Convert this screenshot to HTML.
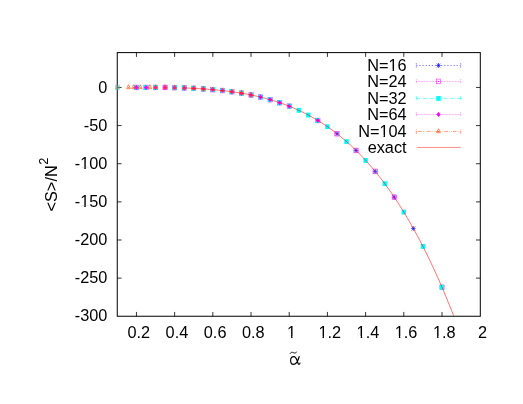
<!DOCTYPE html>
<html><head><meta charset="utf-8"><title>plot</title>
<style>html,body{margin:0;padding:0;background:#fff;}svg{display:block;will-change:transform}text{font-family:"Liberation Sans",sans-serif;font-size:16.3px;fill:#000}</style>
</head><body>
<svg width="523" height="404" viewBox="0 0 523 404">
<rect width="523" height="404" fill="#fff"/>
<g id="axes" stroke="#000" stroke-width="1" fill="none">
<rect x="117.25" y="52.6" width="363.05" height="263.65"/>
<path stroke-width="0.8" d="M136.45 316.25V311.95M136.45 52.6V56.9"/>
<path stroke-width="0.8" d="M174.64 316.25V311.95M174.64 52.6V56.9"/>
<path stroke-width="0.8" d="M212.84 316.25V311.95M212.84 52.6V56.9"/>
<path stroke-width="0.8" d="M251.03 316.25V311.95M251.03 52.6V56.9"/>
<path stroke-width="0.8" d="M289.22 316.25V311.95M289.22 52.6V56.9"/>
<path stroke-width="0.8" d="M327.42 316.25V311.95M327.42 52.6V56.9"/>
<path stroke-width="0.8" d="M365.61 316.25V311.95M365.61 52.6V56.9"/>
<path stroke-width="0.8" d="M403.80 316.25V311.95M403.80 52.6V56.9"/>
<path stroke-width="0.8" d="M442.00 316.25V311.95M442.00 52.6V56.9"/>
<path stroke-width="0.8" d="M117.25 87.45H121.55M480.3 87.45H476.0"/>
<path stroke-width="0.8" d="M117.25 125.59H121.55M480.3 125.59H476.0"/>
<path stroke-width="0.8" d="M117.25 163.72H121.55M480.3 163.72H476.0"/>
<path stroke-width="0.8" d="M117.25 201.86H121.55M480.3 201.86H476.0"/>
<path stroke-width="0.8" d="M117.25 239.99H121.55M480.3 239.99H476.0"/>
<path stroke-width="0.8" d="M117.25 278.12H121.55M480.3 278.12H476.0"/>
</g>
<g id="data">
<g opacity="0.6">
<rect x="115.25" y="85.10" width="4.20" height="4.70" stroke="#ff00ff" stroke-width="0.5" fill="none"/><circle cx="117.35" cy="87.45" r="0.5" fill="#ff00ff"/>
<rect x="115.15" y="85.00" width="4.40" height="4.90" fill="#00ffff"/>
<path d="M117.35 84.71L115.50 88.67L119.20 88.67Z" stroke="#ff4d00" stroke-width="0.65" fill="none"/><circle cx="117.35" cy="87.45" r="0.5" fill="#ff4d00"/>
</g>
<path d="M134.25 87.45H138.65M136.45 85.00V89.90M134.73 85.54L138.16 89.36M134.73 89.36L138.16 85.54" stroke="#0000ff" stroke-width="0.65" fill="none"/>
<path d="M143.80 87.45H148.20M146.00 85.00V89.90M144.28 85.54L147.71 89.36M144.28 89.36L147.71 85.54" stroke="#0000ff" stroke-width="0.65" fill="none"/>
<path d="M153.34 87.45H157.74M155.54 85.00V89.90M153.83 85.54L157.26 89.36M153.83 89.36L157.26 85.54" stroke="#0000ff" stroke-width="0.65" fill="none"/>
<path d="M162.89 87.45H167.29M165.09 85.00V89.90M163.38 85.54L166.81 89.36M163.38 89.36L166.81 85.54" stroke="#0000ff" stroke-width="0.65" fill="none"/>
<path d="M172.44 87.63H176.84M174.64 85.18V90.08M172.93 85.72L176.36 89.54M172.93 89.54L176.36 85.72" stroke="#0000ff" stroke-width="0.65" fill="none"/>
<path d="M181.99 87.93H186.39M184.19 85.48V90.38M182.47 86.02L185.91 89.84M182.47 89.84L185.91 86.02" stroke="#0000ff" stroke-width="0.65" fill="none"/>
<path d="M191.54 88.34H195.94M193.74 85.89V90.79M192.02 86.43L195.45 90.25M192.02 90.25L195.45 86.43" stroke="#0000ff" stroke-width="0.65" fill="none"/>
<path d="M201.09 88.89H205.49M203.29 86.44V91.34M201.57 86.98L205.00 90.80M201.57 90.80L205.00 86.98" stroke="#0000ff" stroke-width="0.65" fill="none"/>
<path d="M210.63 89.62H215.03M212.83 87.17V92.07M211.12 87.71L214.55 91.53M211.12 91.53L214.55 87.71" stroke="#0000ff" stroke-width="0.65" fill="none"/>
<path d="M220.18 90.55H224.58M222.38 88.10V93.00M220.67 88.64L224.10 92.46M220.67 92.46L224.10 88.64" stroke="#0000ff" stroke-width="0.65" fill="none"/>
<path d="M229.73 91.72H234.13M231.93 89.27V94.17M230.22 89.81L233.65 93.63M230.22 93.63L233.65 89.81" stroke="#0000ff" stroke-width="0.65" fill="none"/>
<path d="M239.28 93.18H243.68M241.48 90.73V95.63M239.76 91.27L243.20 95.09M239.76 95.09L243.20 91.27" stroke="#0000ff" stroke-width="0.65" fill="none"/>
<path d="M248.83 94.95H253.23M251.03 92.50V97.40M249.31 93.04L252.75 96.87M249.31 96.87L252.75 93.04" stroke="#0000ff" stroke-width="0.65" fill="none"/>
<path d="M258.38 97.10H262.78M260.58 94.65V99.55M258.86 95.19L262.29 99.01M258.86 99.01L262.29 95.19" stroke="#0000ff" stroke-width="0.65" fill="none"/>
<path d="M267.93 99.66H272.33M270.13 97.21V102.11M268.41 97.74L271.84 101.57M268.41 101.57L271.84 97.74" stroke="#0000ff" stroke-width="0.65" fill="none"/>
<path d="M277.47 102.68H281.87M279.67 100.23V105.13M277.96 100.76L281.39 104.59M277.96 104.59L281.39 100.76" stroke="#0000ff" stroke-width="0.65" fill="none"/>
<path d="M334.77 133.70H339.17M336.97 131.25V136.15M335.25 131.79L338.68 135.61M335.25 135.61L338.68 131.79" stroke="#0000ff" stroke-width="0.65" fill="none"/>
<path d="M353.86 150.48H358.26M356.06 148.03V152.93M354.35 148.57L357.78 152.39M354.35 152.39L357.78 148.57" stroke="#0000ff" stroke-width="0.65" fill="none"/>
<path d="M372.96 171.43H377.36M375.16 168.98V173.88M373.44 169.52L376.88 173.34M373.44 173.34L376.88 169.52" stroke="#0000ff" stroke-width="0.65" fill="none"/>
<path d="M392.06 197.20H396.46M394.26 194.75V199.65M392.54 195.29L395.97 199.11M392.54 199.11L395.97 195.29" stroke="#0000ff" stroke-width="0.65" fill="none"/>
<path d="M411.15 228.47H415.55M413.35 226.02V230.92M411.64 226.56L415.07 230.38M411.64 230.38L415.07 226.56" stroke="#0000ff" stroke-width="0.65" fill="none"/>
<rect x="134.35" y="85.10" width="4.20" height="4.70" stroke="#ff00ff" stroke-width="0.5" fill="none"/><circle cx="136.45" cy="87.45" r="0.5" fill="#ff00ff"/>
<rect x="143.90" y="85.10" width="4.20" height="4.70" stroke="#ff00ff" stroke-width="0.5" fill="none"/><circle cx="146.00" cy="87.45" r="0.5" fill="#ff00ff"/>
<rect x="153.44" y="85.10" width="4.20" height="4.70" stroke="#ff00ff" stroke-width="0.5" fill="none"/><circle cx="155.54" cy="87.45" r="0.5" fill="#ff00ff"/>
<rect x="162.99" y="85.10" width="4.20" height="4.70" stroke="#ff00ff" stroke-width="0.5" fill="none"/><circle cx="165.09" cy="87.45" r="0.5" fill="#ff00ff"/>
<rect x="172.54" y="85.28" width="4.20" height="4.70" stroke="#ff00ff" stroke-width="0.5" fill="none"/><circle cx="174.64" cy="87.63" r="0.5" fill="#ff00ff"/>
<rect x="182.09" y="85.58" width="4.20" height="4.70" stroke="#ff00ff" stroke-width="0.5" fill="none"/><circle cx="184.19" cy="87.93" r="0.5" fill="#ff00ff"/>
<rect x="191.64" y="85.99" width="4.20" height="4.70" stroke="#ff00ff" stroke-width="0.5" fill="none"/><circle cx="193.74" cy="88.34" r="0.5" fill="#ff00ff"/>
<rect x="201.19" y="86.54" width="4.20" height="4.70" stroke="#ff00ff" stroke-width="0.5" fill="none"/><circle cx="203.29" cy="88.89" r="0.5" fill="#ff00ff"/>
<rect x="210.73" y="87.27" width="4.20" height="4.70" stroke="#ff00ff" stroke-width="0.5" fill="none"/><circle cx="212.83" cy="89.62" r="0.5" fill="#ff00ff"/>
<rect x="220.28" y="88.20" width="4.20" height="4.70" stroke="#ff00ff" stroke-width="0.5" fill="none"/><circle cx="222.38" cy="90.55" r="0.5" fill="#ff00ff"/>
<rect x="229.83" y="89.37" width="4.20" height="4.70" stroke="#ff00ff" stroke-width="0.5" fill="none"/><circle cx="231.93" cy="91.72" r="0.5" fill="#ff00ff"/>
<rect x="239.38" y="90.83" width="4.20" height="4.70" stroke="#ff00ff" stroke-width="0.5" fill="none"/><circle cx="241.48" cy="93.18" r="0.5" fill="#ff00ff"/>
<rect x="248.93" y="92.60" width="4.20" height="4.70" stroke="#ff00ff" stroke-width="0.5" fill="none"/><circle cx="251.03" cy="94.95" r="0.5" fill="#ff00ff"/>
<rect x="258.48" y="94.75" width="4.20" height="4.70" stroke="#ff00ff" stroke-width="0.5" fill="none"/><circle cx="260.58" cy="97.10" r="0.5" fill="#ff00ff"/>
<rect x="268.03" y="97.31" width="4.20" height="4.70" stroke="#ff00ff" stroke-width="0.5" fill="none"/><circle cx="270.13" cy="99.66" r="0.5" fill="#ff00ff"/>
<rect x="277.57" y="100.33" width="4.20" height="4.70" stroke="#ff00ff" stroke-width="0.5" fill="none"/><circle cx="279.67" cy="102.68" r="0.5" fill="#ff00ff"/>
<rect x="287.12" y="103.86" width="4.20" height="4.70" stroke="#ff00ff" stroke-width="0.5" fill="none"/><circle cx="289.22" cy="106.21" r="0.5" fill="#ff00ff"/>
<rect x="315.77" y="118.14" width="4.20" height="4.70" stroke="#ff00ff" stroke-width="0.5" fill="none"/><circle cx="317.87" cy="120.49" r="0.5" fill="#ff00ff"/>
<rect x="334.87" y="131.35" width="4.20" height="4.70" stroke="#ff00ff" stroke-width="0.5" fill="none"/><circle cx="336.97" cy="133.70" r="0.5" fill="#ff00ff"/>
<rect x="353.96" y="148.13" width="4.20" height="4.70" stroke="#ff00ff" stroke-width="0.5" fill="none"/><circle cx="356.06" cy="150.48" r="0.5" fill="#ff00ff"/>
<rect x="373.06" y="169.08" width="4.20" height="4.70" stroke="#ff00ff" stroke-width="0.5" fill="none"/><circle cx="375.16" cy="171.43" r="0.5" fill="#ff00ff"/>
<rect x="392.16" y="194.85" width="4.20" height="4.70" stroke="#ff00ff" stroke-width="0.5" fill="none"/><circle cx="394.26" cy="197.20" r="0.5" fill="#ff00ff"/>
<rect x="439.90" y="284.96" width="4.20" height="4.70" stroke="#ff00ff" stroke-width="0.5" fill="none"/><circle cx="442.00" cy="287.31" r="0.5" fill="#ff00ff"/>
<rect x="134.25" y="85.00" width="4.40" height="4.90" fill="#00ffff"/>
<rect x="143.80" y="85.00" width="4.40" height="4.90" fill="#00ffff"/>
<rect x="153.34" y="85.00" width="4.40" height="4.90" fill="#00ffff"/>
<rect x="172.44" y="85.18" width="4.40" height="4.90" fill="#00ffff"/>
<rect x="181.99" y="85.48" width="4.40" height="4.90" fill="#00ffff"/>
<rect x="191.54" y="85.89" width="4.40" height="4.90" fill="#00ffff"/>
<rect x="201.09" y="86.44" width="4.40" height="4.90" fill="#00ffff"/>
<rect x="210.63" y="87.17" width="4.40" height="4.90" fill="#00ffff"/>
<rect x="220.18" y="88.10" width="4.40" height="4.90" fill="#00ffff"/>
<rect x="229.73" y="89.27" width="4.40" height="4.90" fill="#00ffff"/>
<rect x="239.28" y="90.73" width="4.40" height="4.90" fill="#00ffff"/>
<rect x="248.83" y="92.50" width="4.40" height="4.90" fill="#00ffff"/>
<rect x="258.38" y="94.65" width="4.40" height="4.90" fill="#00ffff"/>
<rect x="267.93" y="97.21" width="4.40" height="4.90" fill="#00ffff"/>
<rect x="277.47" y="100.23" width="4.40" height="4.90" fill="#00ffff"/>
<rect x="287.02" y="103.76" width="4.40" height="4.90" fill="#00ffff"/>
<rect x="296.57" y="107.87" width="4.40" height="4.90" fill="#00ffff"/>
<rect x="306.12" y="112.61" width="4.40" height="4.90" fill="#00ffff"/>
<rect x="315.67" y="118.04" width="4.40" height="4.90" fill="#00ffff"/>
<rect x="325.22" y="124.23" width="4.40" height="4.90" fill="#00ffff"/>
<rect x="344.31" y="139.15" width="4.40" height="4.90" fill="#00ffff"/>
<rect x="363.41" y="157.94" width="4.40" height="4.90" fill="#00ffff"/>
<rect x="382.51" y="181.22" width="4.40" height="4.90" fill="#00ffff"/>
<rect x="401.60" y="209.66" width="4.40" height="4.90" fill="#00ffff"/>
<rect x="420.70" y="243.95" width="4.40" height="4.90" fill="#00ffff"/>
<rect x="439.80" y="284.86" width="4.40" height="4.90" fill="#00ffff"/>
<path d="M136.45 85.00L138.65 87.45L136.45 89.90L134.25 87.45Z" fill="#ff00ff"/>
<path d="M146.00 85.00L148.20 87.45L146.00 89.90L143.80 87.45Z" fill="#ff00ff"/>
<path d="M155.54 85.00L157.74 87.45L155.54 89.90L153.34 87.45Z" fill="#ff00ff"/>
<path d="M165.09 85.00L167.29 87.45L165.09 89.90L162.89 87.45Z" fill="#ff00ff"/>
<path d="M174.64 85.18L176.84 87.63L174.64 90.08L172.44 87.63Z" fill="#ff00ff"/>
<path d="M184.19 85.48L186.39 87.93L184.19 90.38L181.99 87.93Z" fill="#ff00ff"/>
<path d="M193.74 85.89L195.94 88.34L193.74 90.79L191.54 88.34Z" fill="#ff00ff"/>
<path d="M203.29 86.44L205.49 88.89L203.29 91.34L201.09 88.89Z" fill="#ff00ff"/>
<path d="M212.83 87.17L215.03 89.62L212.83 92.07L210.63 89.62Z" fill="#ff00ff"/>
<path d="M222.38 88.10L224.58 90.55L222.38 93.00L220.18 90.55Z" fill="#ff00ff"/>
<path d="M231.93 89.27L234.13 91.72L231.93 94.17L229.73 91.72Z" fill="#ff00ff"/>
<path d="M241.48 90.73L243.68 93.18L241.48 95.63L239.28 93.18Z" fill="#ff00ff"/>
<path d="M251.03 92.50L253.23 94.95L251.03 97.40L248.83 94.95Z" fill="#ff00ff"/>
<path d="M260.58 94.65L262.78 97.10L260.58 99.55L258.38 97.10Z" fill="#ff00ff"/>
<path d="M270.13 97.21L272.33 99.66L270.13 102.11L267.93 99.66Z" fill="#ff00ff"/>
<path d="M279.67 100.23L281.87 102.68L279.67 105.13L277.47 102.68Z" fill="#ff00ff"/>
<path d="M289.22 103.76L291.42 106.21L289.22 108.66L287.02 106.21Z" fill="#ff00ff"/>
<path d="M317.87 118.04L320.07 120.49L317.87 122.94L315.67 120.49Z" fill="#ff00ff"/>
<path d="M128.43 84.71L126.58 88.67L130.28 88.67Z" stroke="#ff4d00" stroke-width="0.65" fill="none"/><circle cx="128.43" cy="87.45" r="0.5" fill="#ff4d00"/>
<path d="M133.58 84.71L131.73 88.67L135.43 88.67Z" stroke="#ff4d00" stroke-width="0.65" fill="none"/><circle cx="133.58" cy="87.45" r="0.5" fill="#ff4d00"/>
<path d="M140.27 84.71L138.42 88.67L142.12 88.67Z" stroke="#ff4d00" stroke-width="0.65" fill="none"/><circle cx="140.27" cy="87.45" r="0.5" fill="#ff4d00"/>
<path d="M149.81 84.71L147.96 88.67L151.66 88.67Z" stroke="#ff4d00" stroke-width="0.65" fill="none"/><circle cx="149.81" cy="87.45" r="0.5" fill="#ff4d00"/>
<path d="M155.54 84.71L153.69 88.67L157.39 88.67Z" stroke="#ff4d00" stroke-width="0.65" fill="none"/><circle cx="155.54" cy="87.45" r="0.5" fill="#ff4d00"/>
<path d="M165.09 84.71L163.24 88.67L166.94 88.67Z" stroke="#ff4d00" stroke-width="0.65" fill="none"/><circle cx="165.09" cy="87.45" r="0.5" fill="#ff4d00"/>
<path d="M174.64 84.89L172.79 88.86L176.49 88.86Z" stroke="#ff4d00" stroke-width="0.65" fill="none"/><circle cx="174.64" cy="87.63" r="0.5" fill="#ff4d00"/>
<path d="M184.19 85.18L182.34 89.15L186.04 89.15Z" stroke="#ff4d00" stroke-width="0.65" fill="none"/><circle cx="184.19" cy="87.93" r="0.5" fill="#ff4d00"/>
<path d="M193.74 85.59L191.89 89.56L195.59 89.56Z" stroke="#ff4d00" stroke-width="0.65" fill="none"/><circle cx="193.74" cy="88.34" r="0.5" fill="#ff4d00"/>
<path d="M203.29 86.15L201.44 90.11L205.14 90.11Z" stroke="#ff4d00" stroke-width="0.65" fill="none"/><circle cx="203.29" cy="88.89" r="0.5" fill="#ff4d00"/>
<path d="M212.83 86.87L210.98 90.84L214.68 90.84Z" stroke="#ff4d00" stroke-width="0.65" fill="none"/><circle cx="212.83" cy="89.62" r="0.5" fill="#ff4d00"/>
<path d="M222.38 87.80L220.53 91.77L224.23 91.77Z" stroke="#ff4d00" stroke-width="0.65" fill="none"/><circle cx="222.38" cy="90.55" r="0.5" fill="#ff4d00"/>
<path d="M231.93 88.98L230.08 92.95L233.78 92.95Z" stroke="#ff4d00" stroke-width="0.65" fill="none"/><circle cx="231.93" cy="91.72" r="0.5" fill="#ff4d00"/>
<path d="M241.48 90.43L239.63 94.40L243.33 94.40Z" stroke="#ff4d00" stroke-width="0.65" fill="none"/><circle cx="241.48" cy="93.18" r="0.5" fill="#ff4d00"/>
<path d="M251.03 92.21L249.18 96.18L252.88 96.18Z" stroke="#ff4d00" stroke-width="0.65" fill="none"/><circle cx="251.03" cy="94.95" r="0.5" fill="#ff4d00"/>
<polyline fill="none" stroke="#ff0000" stroke-width="0.55" points="184.19,87.93 186.10,88.00 188.01,88.08 189.92,88.16 191.83,88.24 193.74,88.34 195.65,88.43 197.56,88.54 199.47,88.65 201.38,88.77 203.29,88.89 205.20,89.02 207.11,89.16 209.02,89.30 210.93,89.46 212.84,89.62 214.74,89.78 216.65,89.96 218.56,90.15 220.47,90.34 222.38,90.55 224.29,90.76 226.20,90.99 228.11,91.22 230.02,91.47 231.93,91.72 233.84,91.99 235.75,92.27 237.66,92.56 239.57,92.86 241.48,93.18 243.39,93.51 245.30,93.85 247.21,94.20 249.12,94.57 251.03,94.95 252.94,95.35 254.85,95.77 256.76,96.19 258.67,96.64 260.58,97.10 262.49,97.57 264.40,98.07 266.31,98.58 268.22,99.11 270.13,99.66 272.04,100.22 273.95,100.80 275.86,101.41 277.76,102.03 279.67,102.68 281.58,103.34 283.49,104.03 285.40,104.73 287.31,105.46 289.22,106.21 291.13,106.99 293.04,107.78 294.95,108.61 296.86,109.45 298.77,110.32 300.68,111.22 302.59,112.14 304.50,113.09 306.41,114.06 308.32,115.06 310.23,116.09 312.14,117.15 314.05,118.23 315.96,119.35 317.87,120.49 319.78,121.67 321.69,122.88 323.60,124.11 325.51,125.38 327.42,126.68 329.33,128.02 331.24,129.39 333.15,130.79 335.06,132.22 336.97,133.70 338.88,135.20 340.78,136.75 342.69,138.33 344.60,139.95 346.51,141.60 348.42,143.30 350.33,145.03 352.24,146.81 354.15,148.62 356.06,150.48 357.97,152.38 359.88,154.32 361.79,156.30 363.70,158.32 365.61,160.39 367.52,162.51 369.43,164.67 371.34,166.88 373.25,169.13 375.16,171.43 377.07,173.78 378.98,176.18 380.89,178.63 382.80,181.13 384.71,183.67 386.62,186.27 388.53,188.93 390.44,191.63 392.35,194.39 394.26,197.20 396.17,200.07 398.08,202.99 399.99,205.97 401.90,209.01 403.81,212.11 405.71,215.26 407.62,218.47 409.53,221.74 411.44,225.08 413.35,228.47 415.26,231.93 417.17,235.45 419.08,239.04 420.99,242.68 422.90,246.40 424.81,250.18 426.72,254.03 428.63,257.94 430.54,261.92 432.45,265.98 434.36,270.10 436.27,274.29 438.18,278.56 440.09,282.90 442.00,287.31 443.91,291.79 445.82,296.35 447.73,300.99 449.64,305.70 451.55,310.49 453.46,315.36 453.81,316.26"/>
</g>
<g id="legend">
<path d="M416.3 65.45H460.7" stroke="#0000ff" stroke-width="0.55" stroke-dasharray="1.24,1.86" fill="none"/><path d="M416.3 63.25V67.65M460.7 63.25V67.65" stroke="#0000ff" stroke-width="0.55" stroke-dasharray="1.24,1.86" fill="none"/><path d="M436.30 65.45H440.70M438.50 63.00V67.90M436.78 63.54L440.22 67.36M436.78 67.36L440.22 63.54" stroke="#0000ff" stroke-width="0.65" fill="none"/>
<path d="M416.3 81.45H460.7" stroke="#ff00ff" stroke-width="0.55" stroke-dasharray="0.62,0.93" fill="none"/><path d="M416.3 79.25V83.65M460.7 79.25V83.65" stroke="#ff00ff" stroke-width="0.55" stroke-dasharray="0.62,0.93" fill="none"/><rect x="436.40" y="79.10" width="4.20" height="4.70" stroke="#ff00ff" stroke-width="0.5" fill="none"/><circle cx="438.50" cy="81.45" r="0.5" fill="#ff00ff"/>
<path d="M416.3 98.45H460.7" stroke="#00ffff" stroke-width="0.55" stroke-dasharray="3.72,1.24,0.62,1.24" fill="none"/><path d="M416.3 96.25V100.65M460.7 96.25V100.65" stroke="#00ffff" stroke-width="0.55" stroke-dasharray="3.72,1.24,0.62,1.24" fill="none"/><rect x="436.30" y="96.00" width="4.40" height="4.90" fill="#00ffff"/>
<path d="M416.3 114.45H460.7" stroke="#ff00ff" stroke-width="0.55" stroke-dasharray="0.62,0.93" fill="none"/><path d="M416.3 112.25V116.65M460.7 112.25V116.65" stroke="#ff00ff" stroke-width="0.55" stroke-dasharray="0.62,0.93" fill="none"/><path d="M438.50 112.00L440.70 114.45L438.50 116.90L436.30 114.45Z" fill="#ff00ff"/>
<path d="M416.3 131.45H460.7" stroke="#ff4d00" stroke-width="0.55" stroke-dasharray="0.62,1.24,3.72,1.24,0.62,1.24" fill="none"/><path d="M416.3 129.25V133.64999999999998M460.7 129.25V133.64999999999998" stroke="#ff4d00" stroke-width="0.55" stroke-dasharray="0.62,1.24,3.72,1.24,0.62,1.24" fill="none"/><path d="M438.50 128.71L436.65 132.67L440.35 132.67Z" stroke="#ff4d00" stroke-width="0.65" fill="none"/><circle cx="438.50" cy="131.45" r="0.5" fill="#ff4d00"/>
<path d="M416.9 147.45H460.7" stroke="#ff0000" stroke-width="0.45" fill="none"/>
<text x="406.6" y="70.95" text-anchor="end">N=16</text>
<text x="406.6" y="87.40" text-anchor="end">N=24</text>
<text x="406.6" y="103.85" text-anchor="end">N=32</text>
<text x="406.6" y="120.30" text-anchor="end">N=64</text>
<text x="406.6" y="136.75" text-anchor="end">N=104</text>
<text x="406.6" y="153.20" text-anchor="end">exact</text>
</g>
<g id="ticklabels">
<text x="138.75" y="337.8" text-anchor="middle">0.2</text>
<text x="176.94" y="337.8" text-anchor="middle">0.4</text>
<text x="215.14" y="337.8" text-anchor="middle">0.6</text>
<text x="253.33" y="337.8" text-anchor="middle">0.8</text>
<text x="291.52" y="337.8" text-anchor="middle">1</text>
<text x="329.72" y="337.8" text-anchor="middle">1.2</text>
<text x="367.91" y="337.8" text-anchor="middle">1.4</text>
<text x="406.10" y="337.8" text-anchor="middle">1.6</text>
<text x="444.30" y="337.8" text-anchor="middle">1.8</text>
<text x="482.49" y="337.8" text-anchor="middle">2</text>
<text x="107.4" y="93.10" text-anchor="end">0</text>
<text x="107.4" y="131.16" text-anchor="end">-50</text>
<text x="107.4" y="169.23" text-anchor="end">-100</text>
<text x="107.4" y="207.29" text-anchor="end">-150</text>
<text x="107.4" y="245.36" text-anchor="end">-200</text>
<text x="107.4" y="283.42" text-anchor="end">-250</text>
<text x="107.4" y="321.49" text-anchor="end">-300</text>
</g>
<text transform="translate(56.5,211.5) rotate(-90)">&lt;S&gt;/N<tspan font-size="12.8px" dy="-8.7" dx="0.6">2</tspan></text>
<g transform="translate(289.9,356.1)" fill="none" stroke="#000" stroke-linecap="round" stroke-linejoin="round">
<path stroke-width="1.15" d="M9.3 0.4C8.5 3.5 7.0 8.3 3.6 8.3C1.3 8.3 0.7 6.2 0.7 4.5C0.7 2.2 1.9 0.5 3.8 0.5C6.0 0.5 6.9 3.2 7.6 5.6C8.0 7.2 8.6 8.4 9.3 8.2C9.8 8.0 10.0 7.4 10.1 6.9"/>
<path stroke-width="0.9" d="M0.3 -2.7C1.0 -4.0 2.2 -4.1 3.3 -3.5C4.4 -2.9 5.6 -2.7 6.6 -3.9"/>
</g>
<g id="nofoot">
<rect x="389.08" y="69.10" width="3.50" height="2.7" fill="#fff"/>
<rect x="394.02" y="69.10" width="3.36" height="2.7" fill="#fff"/>
<rect x="380.03" y="134.90" width="3.50" height="2.7" fill="#fff"/>
<rect x="384.97" y="134.90" width="3.36" height="2.7" fill="#fff"/>
<rect x="287.59" y="335.95" width="3.50" height="2.7" fill="#fff"/>
<rect x="292.53" y="335.95" width="3.36" height="2.7" fill="#fff"/>
<rect x="319.00" y="335.95" width="3.50" height="2.7" fill="#fff"/>
<rect x="323.94" y="335.95" width="3.36" height="2.7" fill="#fff"/>
<rect x="357.19" y="335.95" width="3.50" height="2.7" fill="#fff"/>
<rect x="362.13" y="335.95" width="3.36" height="2.7" fill="#fff"/>
<rect x="395.38" y="335.95" width="3.50" height="2.7" fill="#fff"/>
<rect x="400.32" y="335.95" width="3.36" height="2.7" fill="#fff"/>
<rect x="433.58" y="335.95" width="3.50" height="2.7" fill="#fff"/>
<rect x="438.52" y="335.95" width="3.36" height="2.7" fill="#fff"/>
<rect x="80.81" y="167.38" width="3.50" height="2.7" fill="#fff"/>
<rect x="85.75" y="167.38" width="3.36" height="2.7" fill="#fff"/>
<rect x="80.81" y="205.44" width="3.50" height="2.7" fill="#fff"/>
<rect x="85.75" y="205.44" width="3.36" height="2.7" fill="#fff"/>
</g>
</svg></body></html>
